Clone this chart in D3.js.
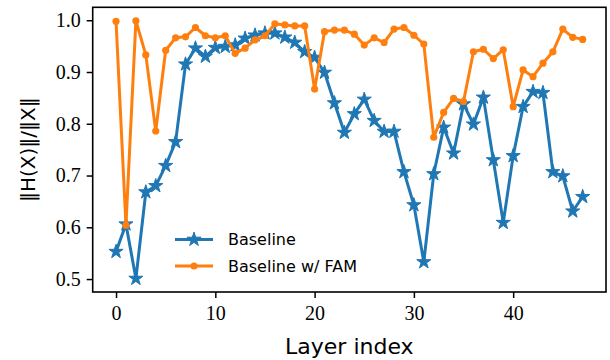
<!DOCTYPE html>
<html><head><meta charset="utf-8">
<script src="https://cdn.jsdelivr.net/npm/d3@7"></script>
<style>body{margin:0;background:#fff}</style>
</head><body>
<svg id="c" width="610" height="360"></svg>
<script>
const layers = d3.range(48);
const baseline = [0.553,0.606,0.501,0.668,0.680,0.719,0.765,0.915,0.946,0.930,0.947,0.949,
  0.952,0.965,0.971,0.975,0.975,0.967,0.957,0.939,0.928,0.899,0.840,0.783,
  0.819,0.847,0.806,0.785,0.785,0.707,0.643,0.533,0.703,0.793,0.743,0.838,
  0.799,0.851,0.730,0.609,0.738,0.833,0.862,0.860,0.707,0.699,0.631,0.659];
const fam = [0.998,0.604,0.999,0.933,0.786,0.942,0.966,0.968,0.986,0.970,0.966,0.970,
  0.936,0.946,0.962,0.970,0.993,0.991,0.989,0.989,0.867,0.978,0.981,0.981,
  0.973,0.952,0.966,0.957,0.983,0.986,0.971,0.954,0.774,0.822,0.849,0.843,
  0.939,0.944,0.926,0.943,0.833,0.904,0.891,0.917,0.939,0.983,0.967,0.963];
const xTicks = [0,10,20,30,40];
const yTicks = [0.5,0.6,0.7,0.8,0.9,1.0];
const seriesNames = ["Baseline","Baseline w/ FAM"];
const colors = ["#1f77b4","#ff7f0e"];

const L=92.7,R=606,T=7.3,B=292;
const svg=d3.select("#c");
const x=d3.scaleLinear().domain([-2.35,49.35]).range([L,R]);
const y=d3.scaleLinear().domain([0.475,1.025]).range([B,T]);

const line=d3.line().x((d,i)=>x(layers[i])).y(d=>y(d));
const series=[baseline,fam];
series.forEach((s,k)=>{
  svg.append("path").datum(s).attr("d",line).attr("fill","none")
    .attr("stroke",colors[k]).attr("stroke-width",3).attr("stroke-linejoin","round");
  if(k===0){
    svg.selectAll(".st").data(s).enter().append("path")
      .attr("transform",(d,i)=>`translate(${x(layers[i])},${y(d)})`)
      .attr("d",d3.symbol(d3.symbolStar,62)).attr("fill",colors[0]).attr("stroke",colors[0]).attr("stroke-width",1);
  } else {
    svg.selectAll(".ci").data(s).enter().append("circle")
      .attr("cx",(d,i)=>x(layers[i])).attr("cy",d=>y(d)).attr("r",3.6).attr("fill",colors[1]);
  }
});

svg.append("rect").attr("x",L).attr("y",T).attr("width",R-L).attr("height",B-T)
  .attr("fill","none").attr("stroke","#000").attr("stroke-width",1.6);

const xa=svg.append("g").attr("transform",`translate(0,${B})`)
  .call(d3.axisBottom(x).tickValues(xTicks).tickSize(6).tickPadding(8).tickFormat(d3.format("d")));
const ya=svg.append("g").attr("transform",`translate(${L},0)`)
  .call(d3.axisLeft(y).tickValues(yTicks).tickSize(6).tickPadding(6).tickFormat(d3.format(".1f")));
[xa,ya].forEach(a=>{
  a.attr("font-family","Liberation Serif").attr("font-size",20);
  a.select(".domain").remove();
  a.selectAll(".tick line").attr("stroke","#000").attr("stroke-width",1.5);
  a.selectAll(".tick text").attr("fill","#000").attr("font-family","Liberation Serif").attr("font-size",20);
});

svg.append("text").attr("x",(L+R)/2).attr("y",354).attr("text-anchor","middle")
  .attr("font-family","DejaVu Sans").attr("font-size",22).text("Layer index");
svg.append("text").attr("transform",`translate(35,${(T+B)/2}) rotate(-90)`).attr("text-anchor","middle")
  .attr("font-family","DejaVu Sans").attr("font-size",20).text("‖H(X)‖/‖X‖");

const lg=svg.append("g");
seriesNames.forEach((n,k)=>{
  const yy=[239.5,266][k];
  lg.append("line").attr("x1",175).attr("x2",213).attr("y1",yy).attr("y2",yy)
    .attr("stroke",colors[k]).attr("stroke-width",3);
  if(k===0) lg.append("path").attr("transform",`translate(194,${yy})`).attr("d",d3.symbol(d3.symbolStar,62)).attr("fill",colors[0]).attr("stroke",colors[0]);
  else lg.append("circle").attr("cx",194).attr("cy",yy).attr("r",3.6).attr("fill",colors[1]);
  lg.append("text").attr("x",228).attr("y",yy+5.5).attr("font-family","DejaVu Sans").attr("font-size",16).text(n);
});
</script>
</body></html>
